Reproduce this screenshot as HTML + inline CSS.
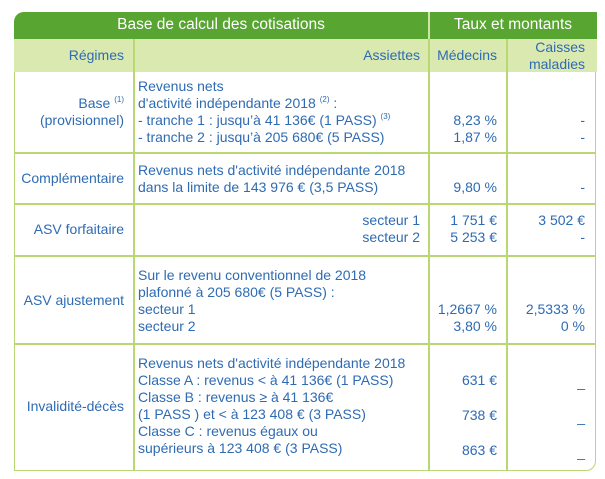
<!DOCTYPE html>
<html><head><meta charset="utf-8"><style>
body{margin:0;width:605px;height:479px;background:#fff;position:relative;overflow:hidden;font-family:"Liberation Sans",sans-serif;color:#2e6bb3;font-size:14px}
.a{position:absolute;white-space:nowrap;line-height:17px}
.r{text-align:right}
.v{position:absolute;background:#b9d772;width:1.5px}
.h{position:absolute;background:#b9d772;height:1.5px;left:15px;width:581px}
sup{font-size:8px;vertical-align:baseline;position:relative;top:-6px;line-height:0}
</style></head><body>
<div style="position:absolute;left:14px;top:12px;width:580px;height:457px;border:1.5px solid #b9d772;border-radius:10px 0 10px 0"></div>
<div style="position:absolute;left:14px;top:12px;width:583px;height:27px;background:#58a532;border-radius:10px 0 0 0"></div>
<div style="position:absolute;left:14px;top:39px;width:583px;height:33px;background:#d9e9b0"></div>
<div style="position:absolute;left:428px;top:12px;width:1.5px;height:27px;background:#cfe5a6"></div>
<div class="v" style="left:133px;top:39px;height:431px"></div>
<div class="v" style="left:428px;top:39px;height:431px"></div>
<div class="v" style="left:506px;top:39px;height:431px"></div>
<div class="h" style="top:152px"></div>
<div class="h" style="top:203px"></div>
<div class="h" style="top:255px"></div>
<div class="h" style="top:343px"></div>
<div class="a" style="left:14px;width:414px;top:16px;text-align:center;color:#fff;font-size:15.5px">Base de calcul des cotisations</div>
<div class="a" style="left:430px;width:166px;top:16px;text-align:center;color:#fff;font-size:15.5px">Taux et montants</div>
<div class="a r" style="right:481px;top:47px">Régimes</div>
<div class="a r" style="right:185px;top:47px">Assiettes</div>
<div class="a r" style="right:108px;top:47px">Médecins</div>
<div class="a r" style="right:20px;top:39px;line-height:17px">Caisses<br>maladies</div>

<div class="a r" style="right:481px;top:95px">Base <sup>(1)</sup><br>(provisionnel)</div>
<div class="a" style="left:138px;top:78px">Revenus nets<br>d'activité indépendante 2018 <sup>(2)</sup> :<br>- tranche 1 : jusqu’à 41 136€ (1 PASS) <sup>(3)</sup><br>- tranche 2 : jusqu’à 205 680€ (5 PASS)</div>
<div class="a r" style="right:108px;top:112px">8,23 %<br>1,87 %</div>
<div class="a r" style="right:20px;top:112px">-<br>-</div>

<div class="a r" style="right:481px;top:170px">Complémentaire</div>
<div class="a" style="left:138px;top:162px">Revenus nets d'activité indépendante 2018<br>dans la limite de 143 976 € (3,5 PASS)</div>
<div class="a r" style="right:108px;top:179px">9,80 %</div>
<div class="a r" style="right:20px;top:179px">-</div>

<div class="a r" style="right:481px;top:221px">ASV forfaitaire</div>
<div class="a r" style="right:185px;top:212px">secteur 1<br>secteur 2</div>
<div class="a r" style="right:108px;top:212px">1 751 €<br>5 253 €</div>
<div class="a r" style="right:20px;top:212px">3 502 €<br>-</div>

<div class="a r" style="right:481px;top:292px">ASV ajustement</div>
<div class="a" style="left:138px;top:267px">Sur le revenu conventionnel de 2018<br>plafonné à 205 680€ (5 PASS) :<br>secteur 1<br>secteur 2</div>
<div class="a r" style="right:108px;top:301px">1,2667 %<br>3,80 %</div>
<div class="a r" style="right:20px;top:301px">2,5333 %<br>0 %</div>

<div class="a r" style="right:481px;top:398px">Invalidité-décès</div>
<div class="a" style="left:138px;top:355px">Revenus nets d'activité indépendante 2018<br>Classe A : revenus &lt; à 41 136€ (1 PASS)<br>Classe B : revenus ≥ à 41 136€<br>(1 PASS ) et &lt; à 123 408 € (3 PASS)<br>Classe C : revenus égaux ou<br>supérieurs à 123 408 € (3 PASS)</div>
<div class="a r" style="right:108px;top:372px">631 €</div>
<div class="a r" style="right:108px;top:407px">738 €</div>
<div class="a r" style="right:108px;top:442px">863 €</div>
<div class="a r" style="right:20px;top:374px">_</div>
<div class="a r" style="right:20px;top:409px">_</div>
<div class="a r" style="right:20px;top:444px">_</div>
</body></html>
